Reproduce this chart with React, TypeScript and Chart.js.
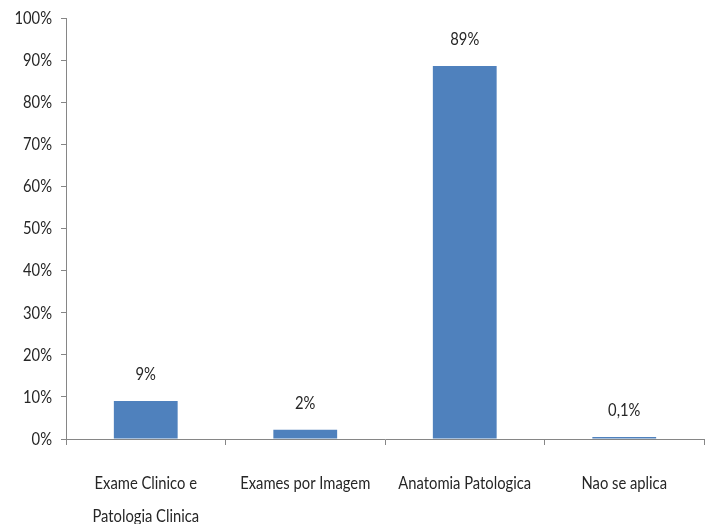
import React, { useEffect, useRef } from "react";
import { Chart, registerables } from "chart.js";

Chart.register(...registerables);

const categories: (string | string[])[] = [
  ["Exame Clinico e", "Patologia Clinica"],
  "Exames por Imagem",
  "Anatomia Patologica",
  "Nao se aplica",
];
const values: number[] = [9, 2.2, 88.6, 0.1];
const valueLabels: string[] = ["9%", "2%", "89%", "0,1%"];
const yTicks: number[] = [0, 10, 20, 30, 40, 50, 60, 70, 80, 90, 100];

const FONT = "Lato, 'Open Sans', sans-serif";
const FONT_SIZE = 18;
const SCALE_X = 0.82;
const TEXT = "#262626";
const AXIS = "#868686";

function drawText(ctx: any, text: string, x: number, y: number, align: "left" | "center" | "right") {
  ctx.save();
  ctx.translate(x, y);
  ctx.scale(SCALE_X, 1);
  ctx.textAlign = align;
  ctx.textBaseline = "middle";
  ctx.fillText(text, 0, 0);
  ctx.restore();
}

const textPlugin = {
  id: "condensedText",
  afterDraw(chart: any) {
    const ctx = chart.ctx;
    const meta = chart.getDatasetMeta(0);
    const xs = chart.scales.x;
    const ys = chart.scales.y;
    ctx.save();
    ctx.font = `${FONT_SIZE}px ${FONT}`;
    ctx.fillStyle = TEXT;
    meta.data.forEach((bar: any, i: number) => {
      drawText(ctx, valueLabels[i], bar.x, bar.y - 27, "center");
    });
    yTicks.forEach((v) => {
      drawText(ctx, `${v}%`, ys.right - 14, ys.getPixelForValue(v), "right");
    });
    categories.forEach((c, i) => {
      const lines = Array.isArray(c) ? c : [c];
      const x = xs.getPixelForValue(i);
      lines.forEach((ln, j) => {
        drawText(ctx, ln, x, xs.top + 44 + j * 33, "center");
      });
    });
    ctx.restore();
  },
};

export default function App() {
  const ref = useRef<HTMLCanvasElement | null>(null);
  useEffect(() => {
    if (!ref.current) return;
    const chart = new Chart(ref.current, {
      type: "bar",
      data: {
        labels: categories,
        datasets: [
          {
            data: values,
            backgroundColor: "#4F81BD",
            borderWidth: 0,
            categoryPercentage: 1,
            barPercentage: 0.4,
            minBarLength: 2,
          },
        ],
      },
      options: {
        animation: false,
        responsive: false,
        maintainAspectRatio: false,
        layout: { padding: { top: 18, right: 4, left: 0, bottom: 0 } },
        plugins: {
          legend: { display: false },
          tooltip: { enabled: false },
        },
        scales: {
          x: {
            offset: true,
            grid: {
              offset: true,
              drawOnChartArea: false,
              drawTicks: true,
              tickLength: 6,
              color: AXIS,
            },
            border: { color: AXIS, width: 1 },
            ticks: {
              color: "rgba(0,0,0,0)",
              font: { family: FONT, size: FONT_SIZE },
              maxRotation: 0,
              autoSkip: false,
            },
            afterFit: (scale: any) => {
              scale.height = 85;
            },
          },
          y: {
            min: 0,
            max: 100,
            afterBuildTicks: (scale: any) => {
              scale.ticks = yTicks.map((v) => ({ value: v }));
            },
            grid: {
              drawOnChartArea: false,
              drawTicks: true,
              tickLength: 5,
              color: AXIS,
            },
            border: { color: AXIS, width: 1 },
            ticks: {
              color: "rgba(0,0,0,0)",
              font: { family: FONT, size: FONT_SIZE },
              callback: (v: any) => `${v}%`,
            },
            afterFit: (scale: any) => {
              scale.width = 66;
            },
          },
        },
      },
      plugins: [textPlugin],
    });
    return () => chart.destroy();
  }, []);
  return (
    <div style={{ position: "fixed", left: 0, top: 0, width: 708, height: 524, background: "#fff" }}>
      <canvas ref={ref} width={708} height={524} style={{ width: 708, height: 524 }} />
    </div>
  );
}
